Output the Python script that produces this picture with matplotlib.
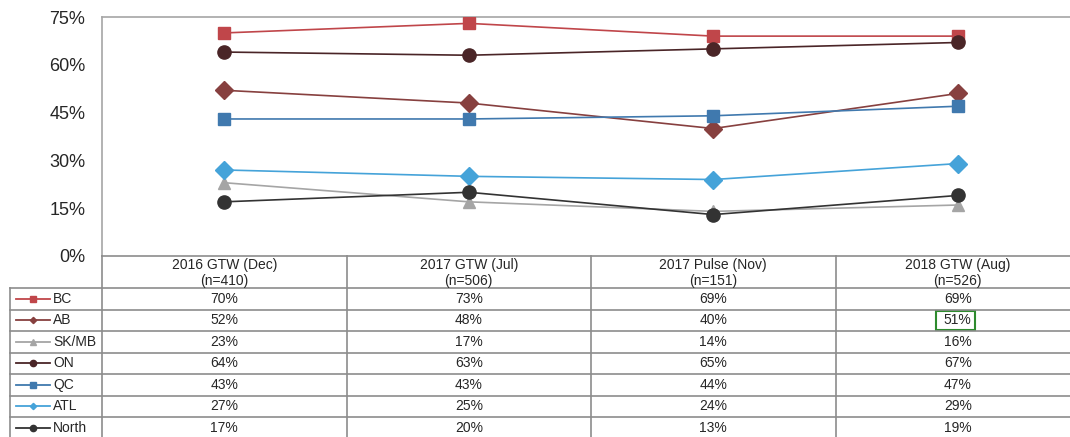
import matplotlib
matplotlib.use("Agg")
import matplotlib.pyplot as plt
from matplotlib.lines import Line2D
from matplotlib.patches import Rectangle

plt.rcParams['font.family'] = ['Liberation Sans', 'DejaVu Sans']

categories = ["2016 GTW (Dec)\n(n=410)", "2017 GTW (Jul)\n(n=506)",
              "2017 Pulse (Nov)\n(n=151)", "2018 GTW (Aug)\n(n=526)"]
series_names = ["BC", "AB", "SK/MB", "ON", "QC", "ATL", "North"]
BC = [70, 73, 69, 69]
AB = [52, 48, 40, 51]
SKMB = [23, 17, 14, 16]
ON = [64, 63, 65, 67]
QC = [43, 43, 44, 47]
ATL = [27, 25, 24, 29]
North = [17, 20, 13, 19]
yticks = [0, 15, 30, 45, 60, 75]

series_values = [BC, AB, SKMB, ON, QC, ATL, North]
colors = ["#C0464A", "#87403F", "#A5A5A5", "#4A2527", "#4079AE", "#45A3D9", "#333333"]
markers = ["s", "D", "^", "o", "s", "D", "o"]
msizes = [8.5, 9, 8, 9.5, 8.5, 9, 9.5]

W, H = 1070, 437
fig = plt.figure(figsize=(W / 100, H / 100), dpi=100)

def fx(px):
    return px / W

def fy(py):
    return 1 - py / H

x_left, x_right = 102, 1080
y_top, y_bot = 17, 256
ax = fig.add_axes([fx(x_left), fy(y_bot), fx(x_right) - fx(x_left), fy(y_top) - fy(y_bot)])
xs = list(range(len(categories)))
for name, vals, c, m, ms in zip(series_names, series_values, colors, markers, msizes):
    ax.plot(xs, vals, color=c, marker=m, markersize=ms, lw=1.2, zorder=3)
ax.set_xlim(-0.5, len(categories) - 0.5)
ax.set_ylim(0, 75)
ax.set_yticks(yticks)
ax.set_yticklabels([f"{v}%" for v in yticks], fontsize=13, color="#262626")
ax.tick_params(axis='y', length=0, pad=12)
ax.set_xticks([])
for s in ["right", "bottom"]:
    ax.spines[s].set_visible(False)
for s in ["left", "top"]:
    ax.spines[s].set_color("#A6A6A6")
    ax.spines[s].set_linewidth(1.2)

# Table overlay in pixel coordinates
tab = fig.add_axes([0, 0, 1, 1], zorder=5)
tab.set_xlim(0, W)
tab.set_ylim(H, 0)
tab.axis('off')
tab.patch.set_alpha(0)

grid_c = "#8C8C8C"
col_edges = [102, 346.5, 591, 835.5, 1080]
header_top, header_bot = 256, 288
row_h = 21.5
row_edges = [header_bot + i * row_h for i in range(len(series_names) + 1)]
leg_left = 10

for yv in [header_top]:
    tab.plot([col_edges[0], W], [yv, yv], color=grid_c, lw=1.2)
for yv in row_edges:
    tab.plot([leg_left, W], [yv, yv], color=grid_c, lw=1.2)
for xv in col_edges:
    tab.plot([xv, xv], [header_top, H], color=grid_c, lw=1.2)
tab.plot([leg_left, leg_left], [header_bot, H], color=grid_c, lw=1.2)

for i, cat in enumerate(categories):
    cx = (col_edges[i] + col_edges[i + 1]) / 2
    tab.text(cx, (header_top + header_bot) / 2 + 1, cat, ha='center', va='center',
             fontsize=10, color="#262626", linespacing=1.1)

for r, (name, vals, c, m) in enumerate(zip(series_names, series_values, colors, markers)):
    cy = (row_edges[r] + row_edges[r + 1]) / 2
    msz = {"s": 4.5, "o": 4.5, "D": 3.2, "^": 3.8}[m]
    tab.add_line(Line2D([16, 50], [cy, cy], color=c, lw=1.3))
    tab.add_line(Line2D([33], [cy], color=c, marker=m, markersize=msz, lw=0))
    tab.text(53, cy, name, ha='left', va='center', fontsize=10, color="#262626")
    for i, v in enumerate(vals):
        cx = (col_edges[i] + col_edges[i + 1]) / 2
        tab.text(cx, cy, f"{v}%", ha='center', va='center', fontsize=10, color="#262626")

tab.add_patch(Rectangle((936, 311), 39, 19, fill=False, edgecolor="#2E8B2E", lw=1.5))

fig.savefig("out.png", dpi=100)
